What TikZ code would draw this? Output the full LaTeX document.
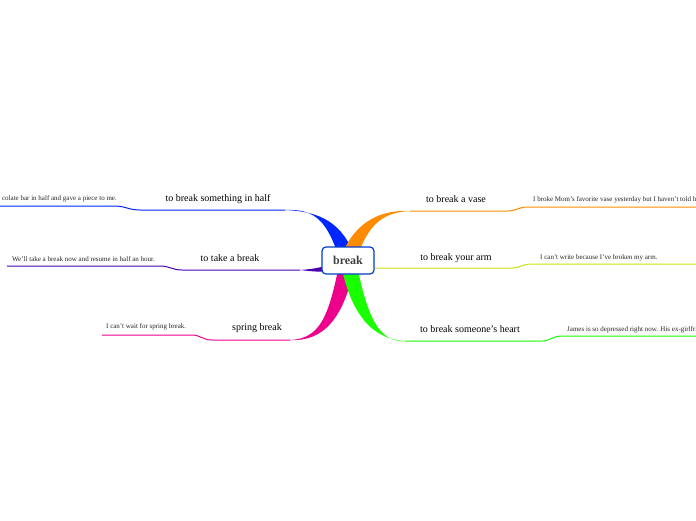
\documentclass[tikz,border=0pt]{standalone}
\usepackage{fontspec}
\setmainfont{Liberation Serif}
\begin{document}
\begin{tikzpicture}[x=1pt,y=-1pt,
  lbl/.style={font=\fontsize{10}{12}\selectfont,inner sep=0pt},
  leaf/.style={font=\fontsize{7}{8}\selectfont,inner sep=0pt,text=black!85},
  center/.style={draw=blue!70!cyan!80!black,line width=1.2pt,rounded corners=4pt,fill=white,minimum width=52pt,minimum height=27pt,font=\fontsize{12}{14}\selectfont\bfseries,text=black!75}]
\fill[white] (0,0) rectangle (696,520);
\useasboundingbox (0,0) rectangle (696,520);
\newcommand\br[5]{%
 \fill[#1] ({348-#4},{260-#5}) .. controls ({348+0.2*(#2-348)-#4},{260+0.75*(#3-260)-#5}) and ({348+0.5*(#2-348)},{#3-0.3*#5-0.2*#4}) .. (#2,#3)
  .. controls ({348+0.5*(#2-348)+0.5*#4},{#3+1.5+0.3*#5}) and ({348+0.2*(#2-348)+#4},{260+0.75*(#3-260)+#5}) .. ({348+#4},{260+#5}) -- cycle;}
\colorlet{cblue}{blue!85!cyan}
\colorlet{cpurp}{violet!60!blue}
\colorlet{cmag}{magenta}
\colorlet{corange}{orange!90!yellow}
\colorlet{cyel}{yellow!80!green}
\colorlet{cgreen}{green!90!yellow}
% branches
\br{cblue}{285}{210}{8}{0}
\br{cpurp}{300}{270}{0}{5}
\br{cmag}{290}{340}{8}{0}
\br{corange}{410}{211}{8}{0}
\br{cyel}{375}{268}{0}{5}
\br{cgreen}{405}{341}{8}{0}
% underlines and leaf lines
\draw[cblue,line width=1pt] (285,210) -- (140,210) .. controls (128,210) and (126,206) .. (114,206) -- (0,206);
\draw[cpurp,line width=1pt] (300,270) -- (182,270) .. controls (172,270) and (170,266) .. (160,266) -- (7,266);
\draw[cmag,line width=1pt] (290,340) -- (212,340) .. controls (203,340) and (200,335) .. (192,335) -- (102,335);
\draw[corange,line width=1pt] (410,211) -- (508,211) .. controls (516,211) and (518,207) .. (528,207) -- (696,207);
\draw[cyel,line width=1pt] (375,268) -- (512,268) .. controls (520,268) and (522,264) .. (532,264) -- (696,264);
\draw[cgreen,line width=1pt] (405,341) -- (542,341) .. controls (550,341) and (552,336) .. (562,336) -- (696,336);
% center
\node[center] (c) at (348,260.5) {break};
% labels
\node[lbl] (l1) at (218,199) {to break something in half};
\node[lbl] (l2) at (230,258) {to take a break};
\node[lbl] (l3) at (257,328) {spring break};
\node[lbl] (r1) at (456,199) {to break a vase};
\node[lbl] (r2) at (456,258) {to break your arm};
\node[lbl] (r3) at (470,329) {to break someone's heart};
% leaves
\node[leaf,anchor=east] (d1) at (117,198.5) {colate bar in half and gave a piece to me.};
\node[leaf,anchor=west] (d2) at (12,259) {We'll take a break now and resume in half an hour.};
\node[leaf,anchor=west] (d3) at (106,327) {I can't wait for spring break.};
\node[leaf,anchor=west] (e1) at (533,199.5) {I broke Mom's favorite vase yesterday but I haven't told h};
\node[leaf,anchor=west] (e2) at (540,258) {I can't write because I've broken my arm.};
\node[leaf,anchor=west] (e3) at (567,329.5) {James is so depressed right now. His ex-girlfri};
\end{tikzpicture}
\end{document}
